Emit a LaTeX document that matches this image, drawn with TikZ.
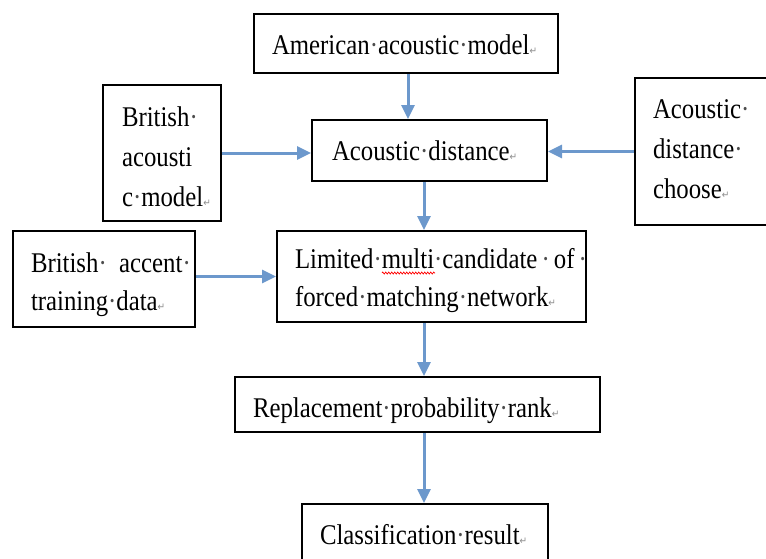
\documentclass[tikz,border=0pt]{standalone}
\usepackage{fontspec}
\setmainfont{Liberation Serif}
\newfontfamily\dejavu{DejaVu Sans}
\usetikzlibrary{arrows.meta,decorations.pathmorphing}
\definecolor{arrowblue}{RGB}{108,152,204}
\newcommand\sd{{\color{black!70}·}}
\newcommand\rt{{\dejavu\fontsize{9}{9}\selectfont\color{black!45}↵}}
\newcommand\tx[2]{\scalebox{1}[1.15]{\fontsize{24.8}{#1}\selectfont\begin{tabular}[t]{@{}l@{}}#2\end{tabular}}}
\tikzset{
  box/.style={draw=black, line width=2pt, inner sep=0pt, minimum width=#1},
  txt/.style={anchor=base west, inner sep=0pt, outer sep=0pt},
  arr/.style={draw=arrowblue, line width=3pt, -{Triangle[width=13pt,length=14pt]}}
}
\begin{document}
\begin{tikzpicture}[x=1pt,y=-1pt]
\path[use as bounding box] (0,0) rectangle (766,558);
\clip (0,0) rectangle (766,558);
% boxes (centres and sizes from the reference)
\node[box=304pt, minimum height=59pt]  (amer) at (406,43.5) {};
\node[box=118pt, minimum height=136pt] (bam)  at (162,153) {};
\node[box=160pt, minimum height=147pt] (adc)  at (715,151.5) {};
\node[box=235pt, minimum height=61pt]  (dist) at (429.5,150.5) {};
\node[box=309pt, minimum height=91pt]  (lim)  at (431.5,276.5) {};
\node[box=182pt, minimum height=96pt]  (bat)  at (104,279) {};
\node[box=365pt, minimum height=55pt]  (rep)  at (417.5,404.5) {};
\node[box=246pt, minimum height=70pt]  (clas) at (425,539) {};
\coordinate (spine) at (424,0);
% texts
\node[txt] (tamer) at (272,54)  {\tx{30}{American\sd acoustic\sd model\rt}};
\node[txt] (tdist) at (332,160) {\tx{30}{Acoustic\sd distance\rt}};
\node[txt] (tbam)  at (122,126) {\tx{35}{British\sd\\ acousti\\ c\sd model\rt}};
\node[txt] (tadc)  at (653,118) {\tx{35}{Acoustic\sd\\ distance\sd\\ choose\rt}};
\node[txt] (tlim)  at (295,268) {\tx{33.5}{Limited\sd multi\sd candidate\,\sd\,of\,\sd\\ forced\sd matching\sd network\rt}};
\node[txt] (tbat)  at (31,272)  {\tx{33.5}{British\sd\ \ accent\sd\\ training\sd data\rt}};
\node[txt] (trep)  at (253,417) {\tx{30}{Replacement\sd probability\sd rank\rt}};
\node[txt] (tclas) at (320,544) {\tx{30}{Classification\sd result\rt}};
% spell-check underline
\draw[red, line width=0.7pt, decorate, decoration={zigzag, amplitude=1pt, segment length=3pt}] (382,273) -- (435,273);
% connectors
\draw[arr] (amer.south -| 408,0) -- (dist.north -| 408,0);
\draw[arr] (bam.east) -- (bam.east -| dist.west);
\draw[arr] (adc.west) -- (adc.west -| dist.east);
\draw[arr] (dist.south -| spine) -- (lim.north -| spine);
\draw[arr] (lim.west -| bat.east) -- (lim.west);
\draw[arr] (lim.south -| spine) -- (rep.north -| spine);
\draw[arr] (rep.south -| spine) -- (clas.north -| spine);
\end{tikzpicture}
\end{document}
